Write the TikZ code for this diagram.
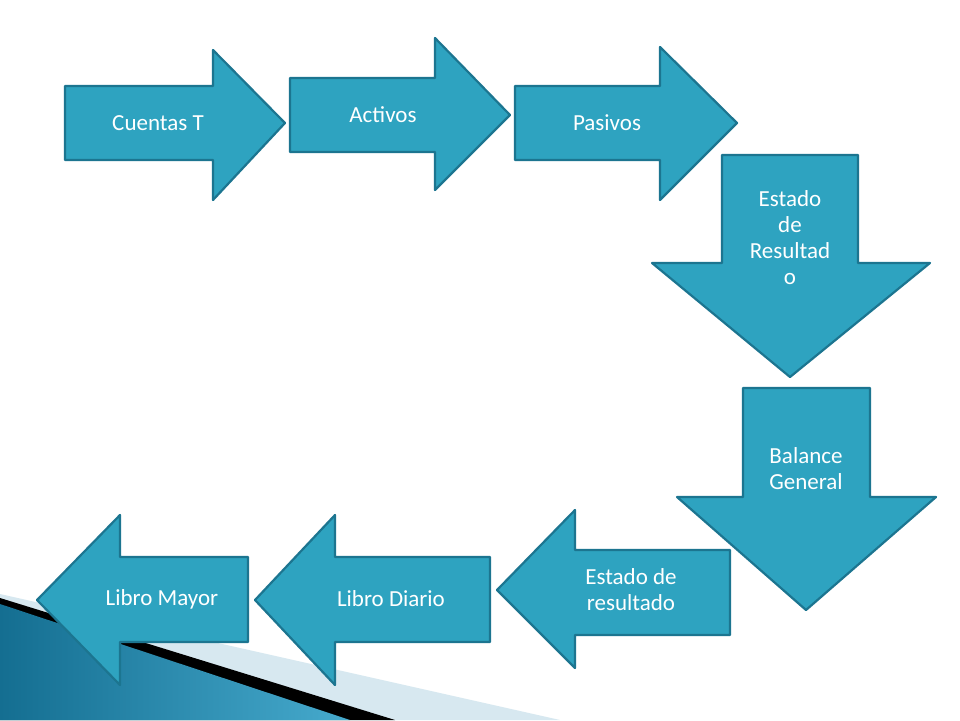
\documentclass[tikz,border=0pt]{standalone}
\usepackage{fontspec}
\setmainfont{Carlito}
\begin{document}
\begin{tikzpicture}[x=1pt,y=-1pt,
  arr/.style={fill=fillc,draw=edgec,line width=2.2pt,line join=round},
  lbl/.style={text=white,font=\fontsize{23}{26}\selectfont,align=center}]
\definecolor{fillc}{HTML}{2EA3C0}
\definecolor{edgec}{HTML}{1C7590}
\useasboundingbox (0,0) rectangle (960,720);
\fill[white] (0,0) rectangle (960,720);
% decoration
\fill[fill={rgb,255:red,215;green,232;blue,240}] (0,594) -- (560,720) -- (0,720) -- cycle;
\fill[black] (0,598) -- (395,720) -- (0,720) -- cycle;
\shade[left color={rgb,255:red,20;green,110;blue,145},right color={rgb,255:red,70;green,170;blue,205}] (0,604) -- (350,720) -- (0,720) -- cycle;
% right arrows
\draw[arr] (65,86) -- (213,86) -- (213,50) -- (285,123) -- (213,200) -- (213,160) -- (65,160) -- cycle;
\draw[arr] (290,78) -- (435,78) -- (435,38) -- (510,115) -- (435,190) -- (435,152) -- (290,152) -- cycle;
\draw[arr] (515,86) -- (660,86) -- (660,47) -- (737,123) -- (660,200) -- (660,160) -- (515,160) -- cycle;
% down arrows
\draw[arr] (722,155) -- (858,155) -- (858,263) -- (930,263) -- (790,377) -- (652,263) -- (722,263) -- cycle;
\draw[arr] (743,388) -- (870,388) -- (870,497) -- (936,497) -- (806,610) -- (677,497) -- (743,497) -- cycle;
% left arrows
\draw[arr] (730,550) -- (575,550) -- (575,510) -- (497,590) -- (575,668) -- (575,635) -- (730,635) -- cycle;
\draw[arr] (490,557) -- (335,557) -- (335,515) -- (255,600) -- (335,685) -- (335,642) -- (490,642) -- cycle;
\draw[arr] (248,557) -- (120,557) -- (120,515) -- (37,600) -- (120,685) -- (120,642) -- (248,642) -- cycle;
% labels
\node[lbl] (a) at (158,123) {Cuentas T};
\node[lbl] (b) at (383,115) {Activos};
\node[lbl] (c) at (607,123) {Pasivos};
\node[lbl,text width=110] (d) at (790,238) {Estado\\de\\Resultad\\o};
\node[lbl] (e) at (806,469) {Balance\\General};
\node[lbl] (f) at (631,590) {Estado de\\resultado};
\node[lbl] (g) at (391,599) {Libro Diario};
\node[lbl] (h) at (162,599) {Libro Mayor};
\end{tikzpicture}
\end{document}
